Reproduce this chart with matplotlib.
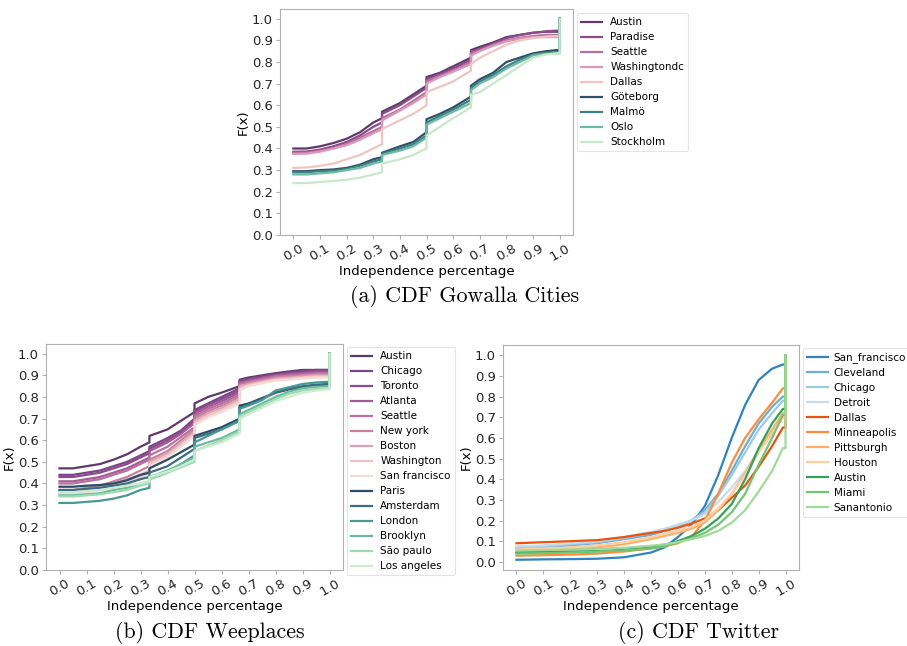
import matplotlib
matplotlib.use('Agg')
import matplotlib.pyplot as plt

# ---- data: Gowalla ----
gow_x = [0.0, 0.05, 0.1, 0.15, 0.2, 0.25, 0.3, 0.333, 0.333, 0.4, 0.45, 0.5, 0.5, 0.55, 0.6,
         0.667, 0.667, 0.7, 0.75, 0.8, 0.85, 0.9, 0.95, 0.99, 1.0, 1.0]
gow_cities = ['Austin', 'Paradise', 'Seattle', 'Washingtondc', 'Dallas',
              'Göteborg', 'Malmö', 'Oslo', 'Stockholm']
gow_colors = ['#5e3a6b', '#8c4a8a', '#b5709f', '#dc98b4', '#efc5c3',
              '#2e5068', '#3f7f86', '#6bbba0', '#c8e9c9']
gow_cdf = [
    [0.40, 0.40, 0.41, 0.425, 0.445, 0.475, 0.52, 0.54, 0.57, 0.61, 0.65, 0.69, 0.73, 0.75, 0.78, 0.82, 0.855, 0.87, 0.89, 0.915, 0.925, 0.935, 0.94, 0.94, 0.94, 1.0],
    [0.385, 0.386, 0.395, 0.41, 0.43, 0.46, 0.50, 0.52, 0.56, 0.60, 0.64, 0.68, 0.72, 0.745, 0.77, 0.81, 0.85, 0.86, 0.885, 0.91, 0.925, 0.935, 0.942, 0.945, 0.945, 1.0],
    [0.38, 0.381, 0.39, 0.40, 0.42, 0.45, 0.48, 0.50, 0.54, 0.58, 0.62, 0.66, 0.71, 0.735, 0.76, 0.80, 0.84, 0.855, 0.88, 0.90, 0.912, 0.92, 0.925, 0.925, 0.925, 1.0],
    [0.375, 0.376, 0.385, 0.40, 0.415, 0.44, 0.47, 0.49, 0.53, 0.575, 0.61, 0.65, 0.70, 0.73, 0.755, 0.79, 0.83, 0.85, 0.875, 0.895, 0.907, 0.915, 0.915, 0.915, 0.915, 1.0],
    [0.31, 0.312, 0.32, 0.33, 0.35, 0.37, 0.40, 0.42, 0.49, 0.53, 0.56, 0.60, 0.66, 0.685, 0.71, 0.76, 0.79, 0.82, 0.85, 0.88, 0.90, 0.91, 0.918, 0.92, 0.92, 1.0],
    [0.295, 0.295, 0.30, 0.303, 0.31, 0.325, 0.35, 0.36, 0.38, 0.41, 0.43, 0.475, 0.535, 0.56, 0.59, 0.64, 0.69, 0.72, 0.75, 0.80, 0.82, 0.84, 0.85, 0.855, 0.855, 1.0],
    [0.29, 0.29, 0.295, 0.298, 0.305, 0.32, 0.34, 0.35, 0.375, 0.40, 0.42, 0.46, 0.52, 0.55, 0.58, 0.625, 0.68, 0.71, 0.74, 0.78, 0.81, 0.835, 0.842, 0.845, 0.845, 1.0],
    [0.28, 0.28, 0.285, 0.29, 0.30, 0.31, 0.33, 0.34, 0.37, 0.39, 0.41, 0.45, 0.51, 0.54, 0.57, 0.61, 0.67, 0.70, 0.73, 0.77, 0.80, 0.83, 0.838, 0.84, 0.84, 1.0],
    [0.24, 0.24, 0.245, 0.25, 0.255, 0.265, 0.28, 0.29, 0.33, 0.35, 0.37, 0.40, 0.46, 0.50, 0.54, 0.59, 0.65, 0.66, 0.70, 0.74, 0.78, 0.82, 0.835, 0.84, 0.84, 1.0],
]

# ---- data: Weeplaces ----
wee_x = [0.0, 0.05, 0.1, 0.15, 0.2, 0.25, 0.3, 0.333, 0.333, 0.4, 0.45, 0.5, 0.5, 0.55, 0.6,
         0.667, 0.667, 0.7, 0.75, 0.8, 0.85, 0.9, 0.95, 0.99, 1.0, 1.0]
wee_cities = ['Austin', 'Chicago', 'Toronto', 'Atlanta', 'Seattle', 'New york',
              'Boston', 'Washington', 'San francisco', 'Paris', 'Amsterdam',
              'London', 'Brooklyn', 'São paulo', 'Los angeles']
wee_colors = ['#5e3a6b', '#7b4585', '#8f4a8c', '#a35a97', '#b8719f', '#c9809f',
              '#dca2b5', '#f0c4c4', '#f5dbd6', '#2c4c66', '#3a6f80',
              '#4b9891', '#6cbb9e', '#9fd9b2', '#cdeccf']
wee_cdf = [
    [0.47, 0.47, 0.48, 0.49, 0.51, 0.535, 0.57, 0.59, 0.62, 0.65, 0.69, 0.73, 0.77, 0.80, 0.82, 0.85, 0.88, 0.89, 0.90, 0.91, 0.918, 0.925, 0.925, 0.925, 0.925, 1.0],
    [0.44, 0.44, 0.45, 0.46, 0.48, 0.50, 0.53, 0.55, 0.57, 0.61, 0.645, 0.70, 0.74, 0.77, 0.80, 0.84, 0.875, 0.885, 0.895, 0.905, 0.913, 0.92, 0.925, 0.925, 0.925, 1.0],
    [0.43, 0.43, 0.44, 0.45, 0.47, 0.49, 0.52, 0.54, 0.56, 0.60, 0.64, 0.69, 0.73, 0.765, 0.79, 0.83, 0.87, 0.88, 0.89, 0.90, 0.91, 0.915, 0.92, 0.92, 0.92, 1.0],
    [0.41, 0.41, 0.42, 0.43, 0.45, 0.47, 0.50, 0.52, 0.55, 0.59, 0.63, 0.68, 0.72, 0.755, 0.78, 0.82, 0.865, 0.875, 0.888, 0.90, 0.905, 0.91, 0.915, 0.915, 0.915, 1.0],
    [0.40, 0.40, 0.41, 0.42, 0.44, 0.46, 0.49, 0.51, 0.53, 0.57, 0.615, 0.66, 0.71, 0.745, 0.77, 0.81, 0.86, 0.87, 0.883, 0.895, 0.90, 0.905, 0.91, 0.91, 0.91, 1.0],
    [0.37, 0.37, 0.38, 0.39, 0.41, 0.43, 0.46, 0.48, 0.51, 0.55, 0.60, 0.65, 0.70, 0.735, 0.76, 0.80, 0.855, 0.865, 0.878, 0.89, 0.895, 0.90, 0.905, 0.905, 0.905, 1.0],
    [0.36, 0.36, 0.37, 0.38, 0.40, 0.42, 0.44, 0.46, 0.50, 0.54, 0.59, 0.64, 0.69, 0.725, 0.75, 0.79, 0.85, 0.86, 0.873, 0.885, 0.89, 0.895, 0.90, 0.90, 0.90, 1.0],
    [0.355, 0.355, 0.365, 0.375, 0.39, 0.41, 0.43, 0.45, 0.49, 0.53, 0.58, 0.63, 0.68, 0.715, 0.74, 0.78, 0.84, 0.855, 0.868, 0.88, 0.885, 0.89, 0.895, 0.895, 0.895, 1.0],
    [0.35, 0.35, 0.36, 0.37, 0.38, 0.40, 0.42, 0.44, 0.48, 0.52, 0.57, 0.62, 0.67, 0.705, 0.73, 0.77, 0.83, 0.85, 0.863, 0.875, 0.88, 0.885, 0.89, 0.89, 0.89, 1.0],
    [0.385, 0.385, 0.39, 0.393, 0.40, 0.415, 0.44, 0.45, 0.47, 0.51, 0.545, 0.58, 0.62, 0.64, 0.66, 0.70, 0.76, 0.77, 0.795, 0.82, 0.835, 0.845, 0.852, 0.855, 0.855, 1.0],
    [0.37, 0.37, 0.375, 0.38, 0.39, 0.40, 0.42, 0.43, 0.45, 0.48, 0.52, 0.56, 0.61, 0.63, 0.65, 0.69, 0.75, 0.765, 0.79, 0.82, 0.838, 0.85, 0.857, 0.86, 0.86, 1.0],
    [0.31, 0.31, 0.315, 0.32, 0.33, 0.345, 0.37, 0.38, 0.42, 0.45, 0.49, 0.53, 0.59, 0.62, 0.65, 0.69, 0.745, 0.76, 0.785, 0.83, 0.845, 0.86, 0.867, 0.87, 0.87, 1.0],
    [0.345, 0.345, 0.35, 0.355, 0.37, 0.38, 0.40, 0.41, 0.43, 0.46, 0.49, 0.52, 0.57, 0.59, 0.61, 0.65, 0.72, 0.74, 0.77, 0.80, 0.825, 0.84, 0.847, 0.85, 0.85, 1.0],
    [0.34, 0.34, 0.345, 0.35, 0.36, 0.37, 0.39, 0.40, 0.42, 0.45, 0.475, 0.50, 0.55, 0.575, 0.60, 0.64, 0.71, 0.73, 0.76, 0.79, 0.815, 0.83, 0.837, 0.84, 0.84, 1.0],
    [0.36, 0.36, 0.365, 0.37, 0.38, 0.39, 0.40, 0.41, 0.43, 0.455, 0.48, 0.51, 0.55, 0.57, 0.59, 0.63, 0.70, 0.72, 0.75, 0.78, 0.80, 0.82, 0.83, 0.835, 0.835, 1.0],
]

# ---- data: Twitter ----
tw_x = [0.0, 0.1, 0.2, 0.3, 0.4, 0.5, 0.55, 0.6, 0.65, 0.7, 0.75, 0.8, 0.85, 0.9, 0.95, 0.99, 1.0, 1.0]
tw_cities = ['San_francisco', 'Cleveland', 'Chicago', 'Detroit', 'Dallas',
             'Minneapolis', 'Pittsburgh', 'Houston', 'Austin', 'Miami', 'Sanantonio']
tw_colors = ['#3182bd', '#6baed6', '#9ecae1', '#c6dbef', '#e6550d',
             '#fd8d3c', '#fdae6b', '#fdd0a2', '#31a354', '#74c476', '#a1d99b']
tw_cdf = [
    [0.01, 0.012, 0.013, 0.015, 0.022, 0.045, 0.07, 0.12, 0.18, 0.27, 0.42, 0.60, 0.76, 0.88, 0.935, 0.955, 0.955, 1.0],
    [0.065, 0.07, 0.08, 0.09, 0.11, 0.13, 0.15, 0.17, 0.20, 0.25, 0.33, 0.44, 0.56, 0.67, 0.75, 0.80, 0.80, 1.0],
    [0.07, 0.075, 0.085, 0.095, 0.115, 0.14, 0.155, 0.175, 0.20, 0.24, 0.32, 0.42, 0.53, 0.64, 0.72, 0.78, 0.78, 1.0],
    [0.075, 0.08, 0.09, 0.10, 0.12, 0.145, 0.16, 0.18, 0.20, 0.23, 0.29, 0.36, 0.44, 0.54, 0.62, 0.70, 0.70, 1.0],
    [0.09, 0.095, 0.10, 0.105, 0.12, 0.14, 0.15, 0.165, 0.185, 0.21, 0.25, 0.31, 0.37, 0.46, 0.56, 0.65, 0.65, 1.0],
    [0.03, 0.032, 0.035, 0.04, 0.05, 0.065, 0.075, 0.09, 0.12, 0.20, 0.33, 0.48, 0.60, 0.69, 0.77, 0.84, 0.84, 1.0],
    [0.05, 0.055, 0.06, 0.07, 0.085, 0.11, 0.125, 0.14, 0.16, 0.19, 0.25, 0.33, 0.43, 0.54, 0.64, 0.72, 0.72, 1.0],
    [0.06, 0.065, 0.07, 0.08, 0.095, 0.12, 0.135, 0.15, 0.17, 0.20, 0.26, 0.33, 0.42, 0.53, 0.62, 0.70, 0.70, 1.0],
    [0.045, 0.047, 0.05, 0.052, 0.058, 0.07, 0.08, 0.10, 0.125, 0.16, 0.21, 0.28, 0.40, 0.55, 0.67, 0.74, 0.74, 1.0],
    [0.04, 0.042, 0.045, 0.05, 0.055, 0.065, 0.075, 0.095, 0.115, 0.14, 0.18, 0.24, 0.33, 0.47, 0.60, 0.71, 0.71, 1.0],
    [0.055, 0.057, 0.06, 0.063, 0.068, 0.078, 0.085, 0.095, 0.11, 0.125, 0.15, 0.19, 0.25, 0.34, 0.44, 0.55, 0.55, 1.0],
]

xticks = [0.0, 0.1, 0.2, 0.3, 0.4, 0.5, 0.6, 0.7, 0.8, 0.9, 1.0]
yticks = [0.0, 0.1, 0.2, 0.3, 0.4, 0.5, 0.6, 0.7, 0.8, 0.9, 1.0]

W, H = 907, 646
fig = plt.figure(figsize=(W / 100, H / 100), dpi=100)


def px_axes(left, top, right, bottom):
    return fig.add_axes([left / W, 1 - bottom / H, (right - left) / W, (bottom - top) / H])


def draw(ax, x, names, colors, cdfs, leg_left, leg_top, ymin=None, textpad=0.8):
    for name, col, y in zip(names, colors, cdfs):
        ax.plot(x, y, color=col, lw=1.6, label=name)
    ax.set_xticks(xticks)
    ax.set_yticks(yticks)
    ax.set_xticklabels(['%.1f' % t for t in xticks], rotation=30)
    ax.set_yticklabels(['%.1f' % t for t in yticks])
    ax.set_xlim(-0.05, 1.05)
    if ymin is not None:
        ax.set_ylim(ymin, 1.045)
    ax.set_xlabel('Independence percentage', fontsize=9.5, labelpad=1)
    ax.set_ylabel('F(x)', fontsize=9.5, labelpad=2)
    ax.tick_params(labelsize=9.5, color='#b0b0b0', length=3, pad=2, labelcolor='#262626')
    for s in ax.spines.values():
        s.set_color('#b0b0b0')
    leg = ax.legend(loc='upper left', bbox_to_anchor=(leg_left / W, 1 - leg_top / H),
                    bbox_transform=fig.transFigure, fontsize=7.5, frameon=True,
                    borderaxespad=0, handlelength=2.0, labelspacing=0.48,
                    handletextpad=textpad)
    leg.get_frame().set_edgecolor('#dddddd')
    leg.get_frame().set_linewidth(0.8)


ax_a = px_axes(280, 9, 573, 235)
draw(ax_a, gow_x, gow_cities, gow_colors, gow_cdf, 577, 13, ymin=0.0)

ax_b = px_axes(46, 344, 343, 570)
draw(ax_b, wee_x, wee_cities, wee_colors, wee_cdf, 347, 347, ymin=0.0)

ax_c = px_axes(503, 345, 799, 570)
draw(ax_c, tw_x, tw_cities, tw_colors, tw_cdf, 803, 348, textpad=0.55)

cap = dict(transform=None, family='cmr10', fontsize=15.8, ha='center', va='center')
fig.text(465, H - 297, '(a) CDF Gowalla Cities', **cap)
fig.text(210, H - 632, '(b) CDF Weeplaces', **cap)
fig.text(698, H - 632, '(c) CDF Twitter', **cap)

fig.savefig('out.png', dpi=100)
